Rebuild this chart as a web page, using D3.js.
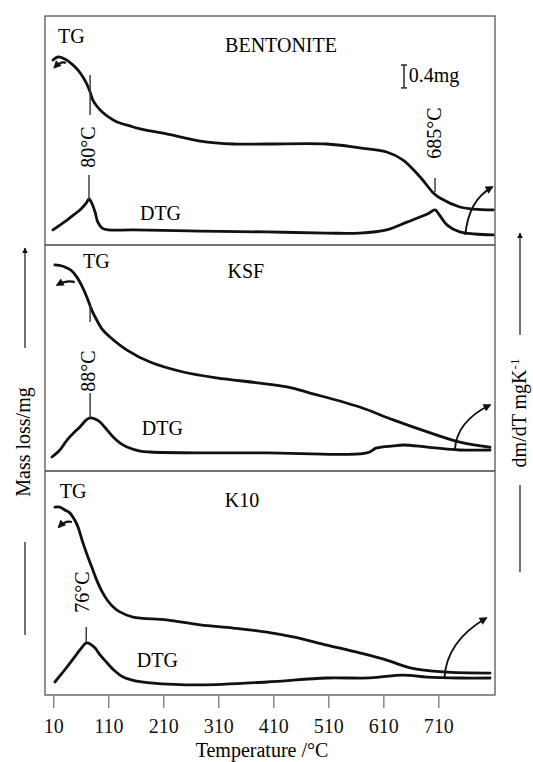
<!DOCTYPE html>
<html>
<head>
<meta charset="utf-8">
<script src="https://cdn.jsdelivr.net/npm/d3@7"></script>
<style>
  body { margin: 0; background: #fff; }
  svg { font-family: "Liberation Serif", "DejaVu Serif", serif; }
</style>
</head>
<body>
<svg id="chart" width="533" height="762"></svg>
<script>
// temperature ticks (°C)
var tempTicks = [10, 110, 210, 310, 410, 510, 610, 710];

// [temperature °C, relative signal 0-100 within the panel]
var bentoniteTG = [[9.5,80.8],[18.5,82.1],[31,81.2],[44,79.0],[55,76.4],[64,73.4],[71,70.3],[77,66.8],
  [82,63.3],[89,60.7],[99,58.1],[113,55.5],[126,53.7],[149,52.0],[168,50.7],[216,48.5],[277,45.4],
  [337,44.1],[398,44.1],[507,44.1],[567,42.4],[616,40.6],[646,37.1],[677,29.7],[701,22.7],[713,20.5],
  [749,16.6],[774,15.7],[810,15.3]];
var bentoniteDTG = [[9.5,6.6],[22,8.7],[35,10.9],[49,13.5],[58.5,15.3],[70,18.3],[75,20.1],[80,18.3],
  [86,14.4],[91,10.0],[99,7.4],[110,6.6],[155,6.6],[277,6.1],[398,5.7],[507,5.2],[567,5.2],[616,6.6],
  [653,10.0],[690,13.5],[704,15.3],[712,13.1],[726,8.7],[749,5.7],[776,4.8],[810,4.4]];

var ksfTG = [[13,91.2],[26,90.7],[35,89.8],[44,88.5],[53,85.8],[62,81.9],[71,77.0],[80,71.2],[89,66.8],
  [100,62.4],[113,59.3],[144,53.5],[186,48.2],[246,43.8],[307,41.2],[386,38.9],[435,37.2],[477,34.5],
  [567,28.3],[628,22.6],[690,17.3],[749,12.8],[804,10.6]];
var ksfDTG = [[7.6,6.2],[22,9.3],[35,13.7],[49,17.3],[58.5,19.5],[70,22.6],[77,23.5],[86,23.0],[95,21.7],
  [108,18.1],[119,15.0],[131,12.4],[144,10.6],[168,8.8],[186,8.4],[277,8.0],[398,8.0],[580,8.0],
  [598,10.2],[628,11.1],[646,11.5],[690,10.6],[749,9.3],[804,9.3]];

var k10TG = [[13,83.9],[22,83.9],[31,82.6],[40,81.3],[49,78.1],[55,75.0],[64,67.9],[73,61.6],[82,55.8],
  [89,51.3],[99,46.0],[108,42.4],[119,39.3],[131,37.1],[155,34.8],[216,33.5],[277,31.3],[337,29.9],
  [398,28.1],[446,25.9],[507,22.3],[567,18.8],[616,15.6],[659,12.1],[719,10.3],[804,9.8]];
var k10DTG = [[13,5.8],[22,8.5],[35,12.5],[49,17.0],[58.5,20.1],[70,23.2],[77,22.8],[86,21.0],[95,17.9],
  [108,14.3],[122,10.7],[137,8.0],[159,6.3],[186,5.4],[277,4.5],[398,5.8],[507,7.6],[586,7.6],
  [646,8.9],[690,8.0],[749,7.6],[804,7.6]];

var sampleNames = ["BENTONITE", "KSF", "K10"];
var peakLabels = ["80°C", "88°C", "76°C"];
var highPeakLabel = "685°C";
var scaleBarLabel = "0.4mg";

var svg = d3.select("#chart");
var left = 45, right = 495;

var x = d3.scaleLinear().domain([-5, 813]).range([left, right]);

var panels = [
  { top: 16, bottom: 245, name: sampleNames[0], tg: bentoniteTG, dtg: bentoniteDTG,
    tgText: [18.5, 88.2], nameText: [424, 84.3], dtgText: [167.6, 10.9],
    peak: { label: peakLabels[0], at: [73.3, 42.8] },
    marks: [[77, 74.2, 56.8], [75, 30.6, 19.7], [704, 29.3, 23.1]],
    hook: [[33, 79.5], [24, 80.5], [12, 77.5]],
    rise: [[759, 4.4], [765, 19.7], [808, 25.3]] },
  { top: 245, bottom: 471, name: sampleNames[1], tg: ksfTG, dtg: ksfDTG,
    tgText: [64, 89.8], nameText: [360, 85.4], dtgText: [171, 15.9],
    peak: { label: peakLabels[1], at: [73, 44.2] },
    marks: [[77, 73.5, 65.9], [77, 34.5, 23.5]],
    hook: [[49, 83.6], [34, 84.5], [17, 82.3]],
    rise: [[740, 9.3], [743, 22], [804, 29.2]] },
  { top: 471, bottom: 695, name: sampleNames[2], tg: k10TG, dtg: k10DTG,
    tgText: [22, 87.9], nameText: [353, 83.9], dtgText: [162, 12.5],
    peak: { label: peakLabels[2], at: [62, 46.0] },
    marks: [[70, 30.4, 23.7]],
    hook: [[44, 77.2], [33, 78.2], [20, 75]],
    rise: [[721, 7.6], [725, 24], [797, 34.4]] }
];

var defs = svg.append("defs");
defs.append("marker")
    .attr("id", "head")
    .attr("viewBox", "0 0 10 10")
    .attr("refX", 8).attr("refY", 5)
    .attr("markerWidth", 9).attr("markerHeight", 8)
    .attr("markerUnits", "userSpaceOnUse")
    .attr("orient", "auto")
  .append("path")
    .attr("d", "M0,0L10,5L0,10z")
    .attr("fill", "#111");
defs.append("marker")
    .attr("id", "axhead")
    .attr("viewBox", "0 0 10 10")
    .attr("refX", 9).attr("refY", 5)
    .attr("markerWidth", 6).attr("markerHeight", 6)
    .attr("markerUnits", "userSpaceOnUse")
    .attr("orient", "auto")
  .append("path")
    .attr("d", "M0,0L10,5L0,10z")
    .attr("fill", "#111");

panels.forEach(function(p) {
  var y = d3.scaleLinear().domain([0, 100]).range([p.bottom, p.top]);
  var g = svg.append("g");

  var line = d3.line()
      .x(d => x(d[0]))
      .y(d => y(d[1]))
      .curve(d3.curveCatmullRom.alpha(0.5));

  g.selectAll(".curve")
    .data([p.tg, p.dtg])
    .enter()
    .append("path")
      .attr("d", line)
      .attr("fill", "none")
      .attr("stroke", "#111")
      .attr("stroke-width", 2.8)
      .attr("stroke-linejoin", "round")
      .attr("stroke-linecap", "round");

  g.selectAll(".mark")
    .data(p.marks)
    .enter()
    .append("line")
      .attr("x1", d => x(d[0])).attr("x2", d => x(d[0]))
      .attr("y1", d => y(d[1])).attr("y2", d => y(d[2]))
      .attr("stroke", "#333")
      .attr("stroke-width", 1.4);

  var quad = d => "M" + x(d[0][0]) + "," + y(d[0][1]) +
                  "Q" + x(d[1][0]) + "," + y(d[1][1]) + " " + x(d[2][0]) + "," + y(d[2][1]);

  g.append("path")
      .attr("d", quad(p.hook))
      .attr("fill", "none")
      .attr("stroke", "#111")
      .attr("stroke-width", 2.2)
      .attr("marker-end", "url(#head)");

  g.append("path")
      .attr("d", quad(p.rise))
      .attr("fill", "none")
      .attr("stroke", "#111")
      .attr("stroke-width", 1.9)
      .attr("marker-end", "url(#head)");

  g.append("text")
      .attr("x", x(p.tgText[0])).attr("y", y(p.tgText[1]))
      .attr("font-size", 20)
      .text("TG");
  g.append("text")
      .attr("x", x(p.nameText[0])).attr("y", y(p.nameText[1]))
      .attr("font-size", 20)
      .attr("text-anchor", "middle")
      .text(p.name);
  g.append("text")
      .attr("x", x(p.dtgText[0])).attr("y", y(p.dtgText[1]))
      .attr("font-size", 20)
      .text("DTG");

  g.append("text")
      .attr("transform", "translate(" + x(p.peak.at[0]) + "," + y(p.peak.at[1]) + ") rotate(-90)")
      .attr("dy", "0.35em")
      .attr("font-size", 20)
      .attr("text-anchor", "middle")
      .text(p.peak.label);

  p.y = y;
});

// extra annotations in the bentonite panel
var y1 = panels[0].y;
svg.append("text")
    .attr("transform", "translate(" + x(703) + "," + y1(48.9) + ") rotate(-90)")
    .attr("dy", "0.35em")
    .attr("font-size", 20)
    .attr("text-anchor", "middle")
    .text(highPeakLabel);

var bar = svg.append("g").attr("stroke", "#333").attr("stroke-width", 1.6);
bar.append("line")
    .attr("x1", x(647.6)).attr("x2", x(647.6))
    .attr("y1", y1(78.6)).attr("y2", y1(68.6));
bar.append("line")
    .attr("x1", x(647.6) - 3).attr("x2", x(647.6) + 3)
    .attr("y1", y1(78.6)).attr("y2", y1(78.6));
bar.append("line")
    .attr("x1", x(647.6) - 3).attr("x2", x(647.6) + 3)
    .attr("y1", y1(68.6)).attr("y2", y1(68.6));
svg.append("text")
    .attr("x", x(656)).attr("y", y1(71.2))
    .attr("font-size", 20)
    .text(scaleBarLabel);

// frame and panel dividers
svg.append("rect")
    .attr("x", left).attr("y", 16)
    .attr("width", right - left).attr("height", 695 - 16)
    .attr("fill", "none")
    .attr("stroke", "#555")
    .attr("stroke-width", 1.3);
svg.selectAll(".divider")
    .data([245, 471])
    .enter()
    .append("line")
      .attr("x1", left).attr("x2", right)
      .attr("y1", d => d).attr("y2", d => d)
      .attr("stroke", "#444")
      .attr("stroke-width", 1.3);

// temperature axis
var axis = svg.append("g")
    .attr("transform", "translate(0,696)")
    .call(d3.axisBottom(x).tickValues(tempTicks).tickSize(12).tickPadding(11));
axis.select(".domain").remove();
axis.selectAll(".tick line").attr("stroke", "#777").attr("stroke-width", 1.3);
axis.selectAll(".tick text")
    .attr("font-family", "Liberation Serif, serif")
    .attr("font-size", 20)
    .attr("fill", "#111");

svg.append("text")
    .attr("x", 262).attr("y", 757)
    .attr("font-size", 20)
    .attr("text-anchor", "middle")
    .text("Temperature /°C");

// left axis title
svg.append("text")
    .attr("transform", "translate(30,442) rotate(-90)")
    .attr("font-size", 20)
    .attr("text-anchor", "middle")
    .text("Mass loss/mg");
svg.append("line")
    .attr("x1", 25).attr("x2", 25).attr("y1", 348).attr("y2", 248)
    .attr("stroke", "#111").attr("stroke-width", 1.2)
    .attr("marker-end", "url(#axhead)");
svg.append("line")
    .attr("x1", 25).attr("x2", 25).attr("y1", 542).attr("y2", 635)
    .attr("stroke", "#111").attr("stroke-width", 1.2);

// right axis title
var rt = svg.append("text")
    .attr("transform", "translate(526,413) rotate(-90)")
    .attr("font-size", 20)
    .attr("text-anchor", "middle");
rt.append("tspan").text("dm/dT mgK");
rt.append("tspan").attr("dy", "-0.55em").attr("font-size", 13).text("-1");
svg.append("line")
    .attr("x1", 520).attr("x2", 520).attr("y1", 335).attr("y2", 233)
    .attr("stroke", "#111").attr("stroke-width", 1.2)
    .attr("marker-end", "url(#axhead)");
svg.append("line")
    .attr("x1", 520).attr("x2", 520).attr("y1", 485).attr("y2", 572)
    .attr("stroke", "#111").attr("stroke-width", 1.2);
</script>
</body>
</html>
